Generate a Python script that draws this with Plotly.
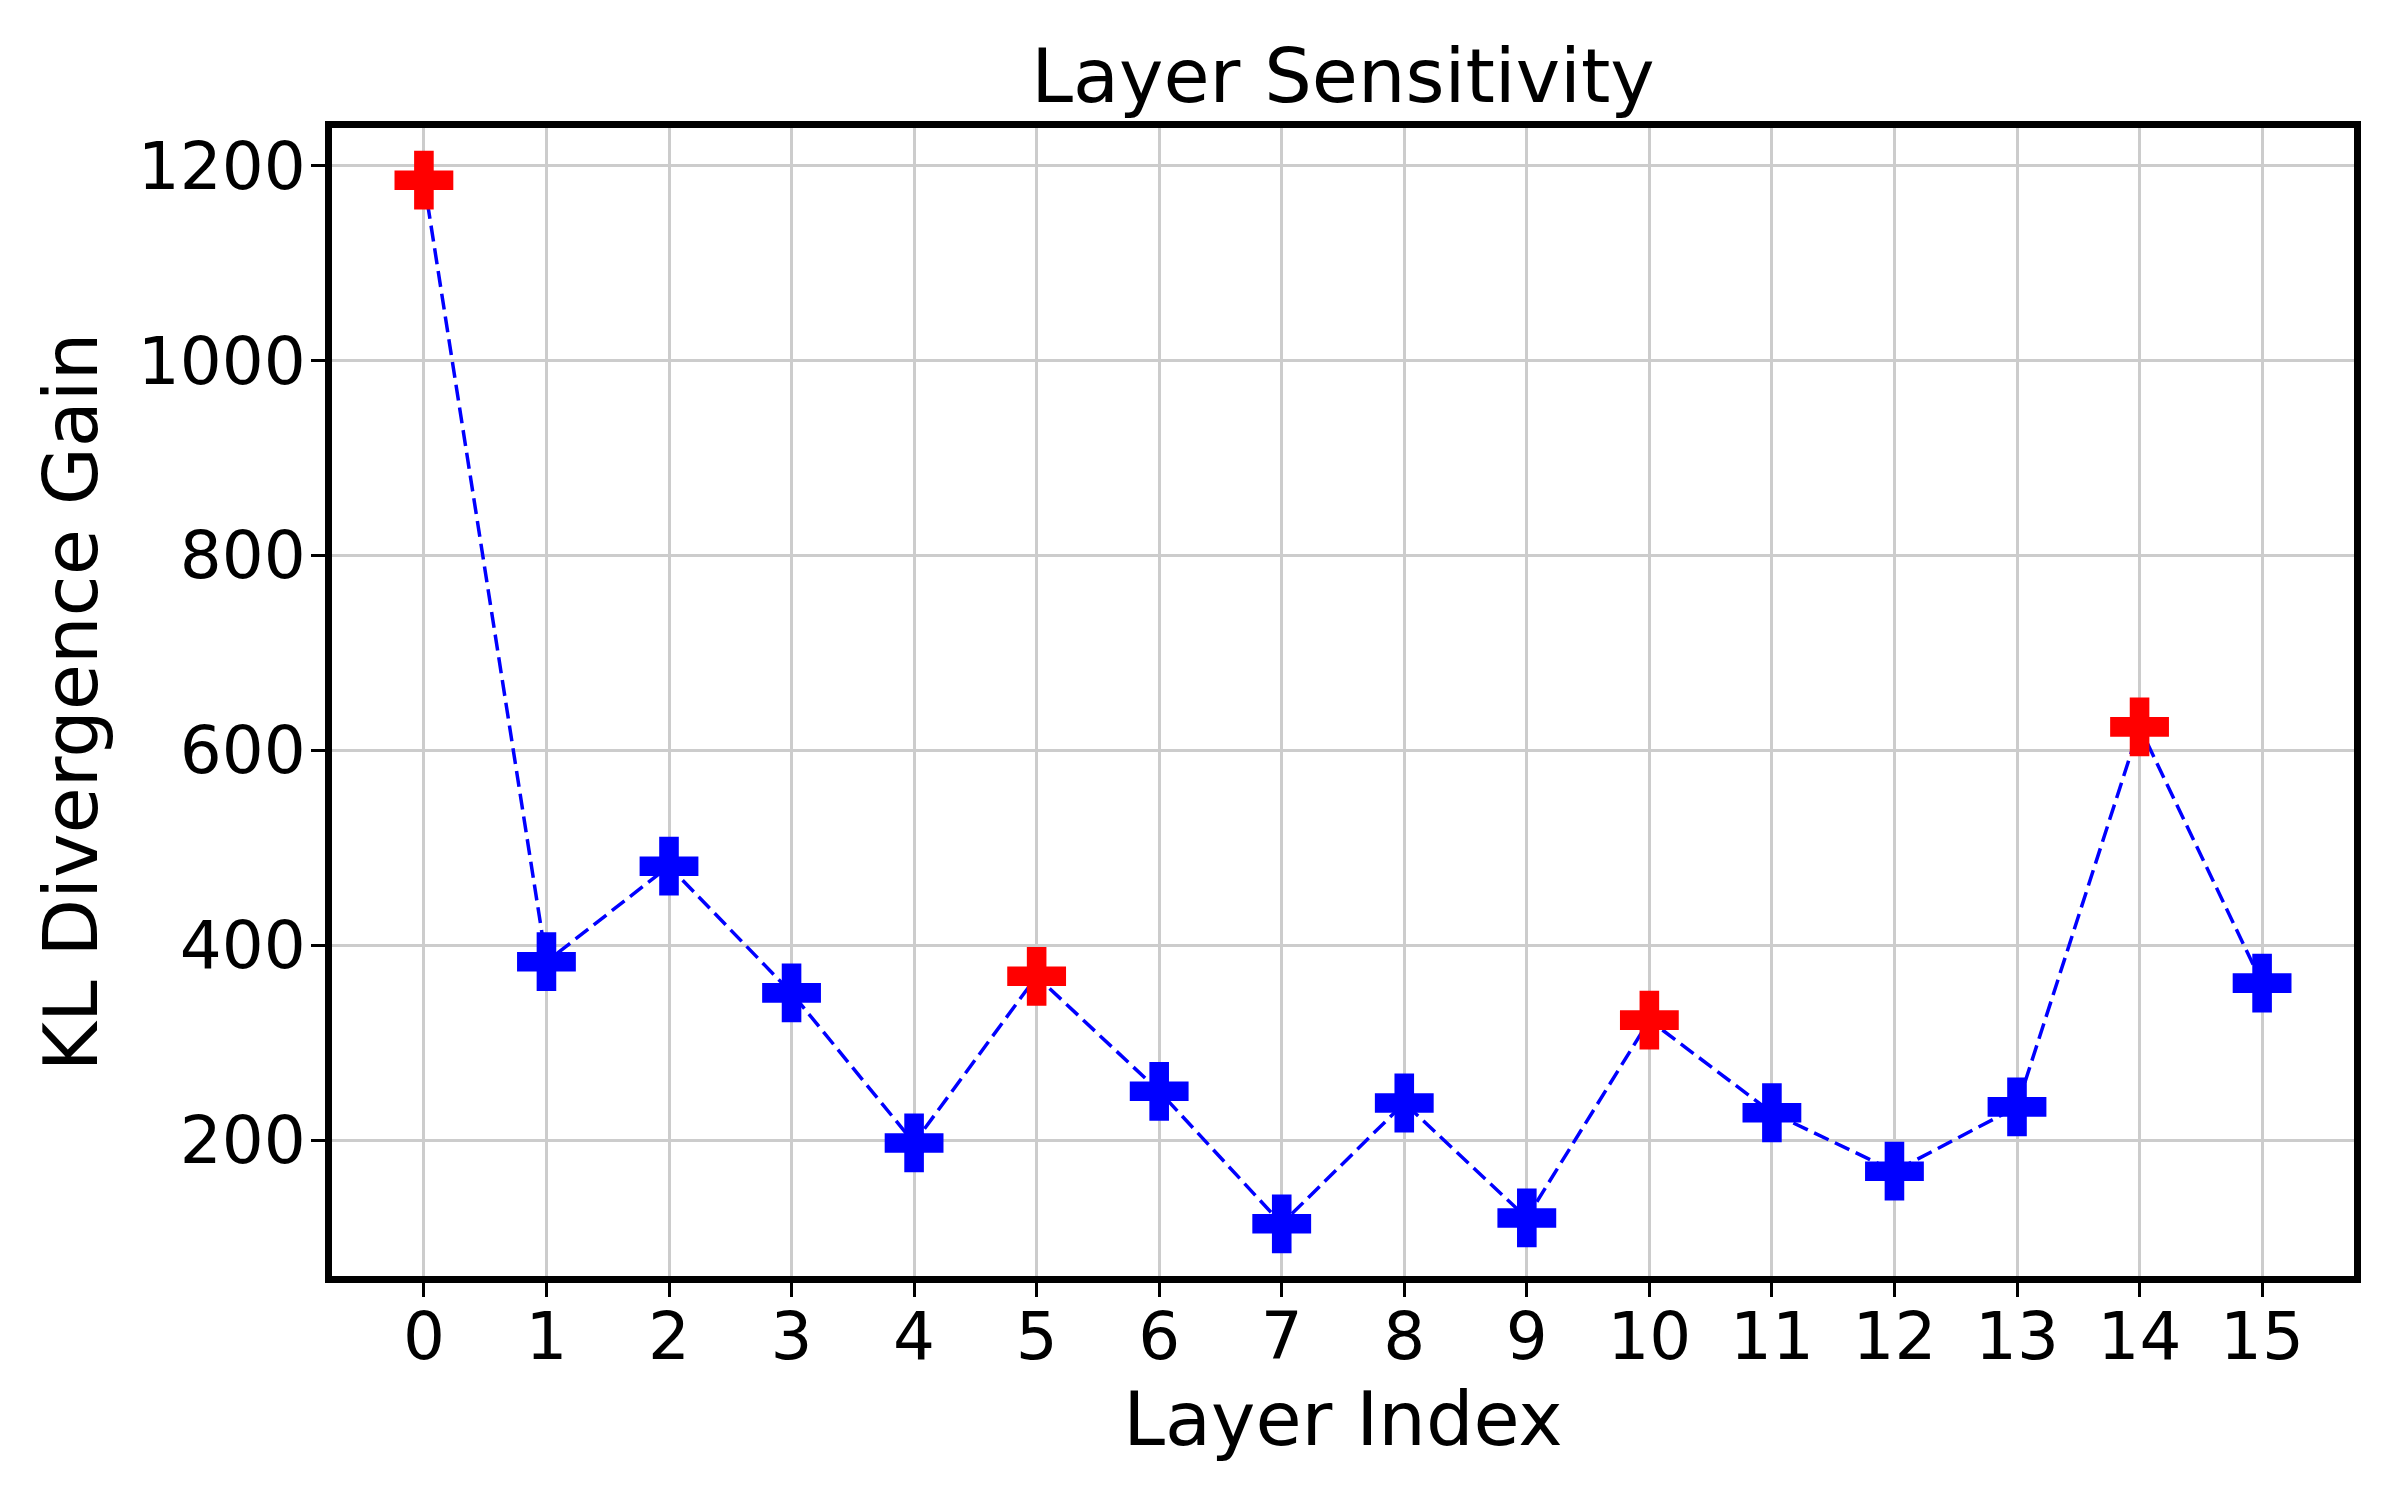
import plotly.graph_objects as go

layers = list(range(16))
kl_gain = [1185, 383, 481, 351, 197, 368, 250, 114, 238, 120, 323, 228, 168, 234, 624, 361]
highlight = [0, 5, 10, 14]
tick_labels = [str(i) for i in layers]
y_ticks = [200, 400, 600, 800, 1000, 1200]

colors = ["#ff0000" if i in highlight else "#0000ff" for i in layers]

FONT = "DejaVu Sans"
W, H = 2392, 1492  # page body has an 8px margin

fig = go.Figure()
fig.add_trace(go.Scatter(
    x=layers, y=kl_gain, mode="lines",
    line=dict(color="#0000ff", width=3.5, dash="16px,7px"),
    showlegend=False, hoverinfo="skip",
))
fig.add_trace(go.Scatter(
    x=layers, y=kl_gain, mode="markers",
    marker=dict(symbol="cross", size=49, color=colors, line=dict(width=0)),
    showlegend=False,
))

ymin, ymax = min(kl_gain), max(kl_gain)
pad = (ymax - ymin) * 0.05

fig.update_layout(
    width=W, height=H,
    paper_bgcolor="white", plot_bgcolor="white",
    margin=dict(l=324, r=46, t=120, b=224),
    font=dict(family=FONT, color="black"),
    title=dict(text="Layer Sensitivity", x=0.5, xref="paper", xanchor="center",
               y=1 - 68 / H, yref="container", yanchor="middle",
               font=dict(size=75, family=FONT, color="black")),
)
fig.update_xaxes(
    range=[-0.75, 15.75], tickmode="array", tickvals=layers, ticktext=tick_labels,
    showgrid=True, gridcolor="#cccccc", gridwidth=2.5, zeroline=False,
    showline=True, linecolor="black", linewidth=7, mirror=True,
    ticks="outside", ticklen=14, tickwidth=3, tickcolor="black",
    ticklabelstandoff=-17,
    tickfont=dict(size=66, family=FONT, color="black"),
    title=dict(text="Layer Index", font=dict(size=75, family=FONT, color="black"), standoff=15),
)
fig.update_yaxes(
    range=[ymin - pad, ymax + pad], tickmode="array", tickvals=y_ticks,
    showgrid=True, gridcolor="#cccccc", gridwidth=2.5, zeroline=False,
    showline=True, linecolor="black", linewidth=7, mirror=True,
    ticks="outside", ticklen=14, tickwidth=3, tickcolor="black",
    ticklabelstandoff=-8,
    tickfont=dict(size=66, family=FONT, color="black"),
    title=dict(text="KL Divergence Gain", font=dict(size=75, family=FONT, color="black"), standoff=18),
)

fig.write_html("out.html")
